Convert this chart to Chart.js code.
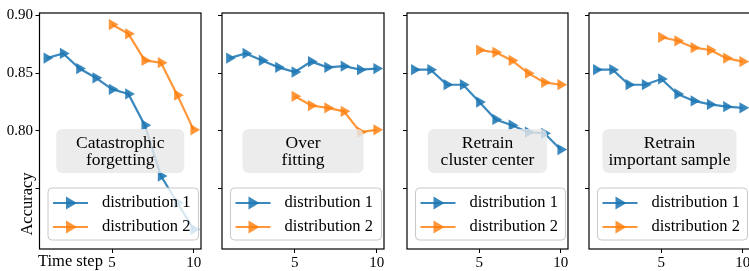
<!DOCTYPE html>
<html lang="en">
<head>
<meta charset="UTF-8">
<title>Accuracy over time steps</title>
<script src="https://cdn.jsdelivr.net/npm/chart.js"></script>
<style>
  html, body { margin: 0; padding: 0; background: #fff; overflow: hidden; }
  #wrap { position: relative; width: 749px; height: 271px; overflow: hidden; }
  #wrap canvas { position: absolute; left: 0; top: 0; }
</style>
</head>
<body>
<div id="wrap">
  <canvas id="p0" width="760" height="271"></canvas>
  <canvas id="p1" width="760" height="271"></canvas>
  <canvas id="p2" width="760" height="271"></canvas>
  <canvas id="p3" width="760" height="271"></canvas>
</div>
<script>
// time steps: distribution 1 from step 1, distribution 2 from step 5
const stepsAll = [1, 2, 3, 4, 5, 6, 7, 8, 9, 10];
const stepsLate = [5, 6, 7, 8, 9, 10];

const panelTitles = [
    ['Catastrophic', 'forgetting'],
    ['Over', 'fitting'],
    ['Retrain', 'cluster center'],
    ['Retrain', 'important sample']
];
const seriesNames = ['distribution 1', 'distribution 2'];

// accuracy, one pair of arrays per panel
const forgetDist1 = [0.863, 0.867, 0.854, 0.846, 0.836, 0.832, 0.805, 0.761, 0.738, 0.715];
const forgetDist2 = [0.892, 0.884, 0.861, 0.859, 0.831, 0.801];
const overfitDist1 = [0.863, 0.867, 0.861, 0.855, 0.851, 0.860, 0.855, 0.856, 0.853, 0.854];
const overfitDist2 = [0.830, 0.822, 0.820, 0.817, 0.799, 0.801];
const clusterDist1 = [0.853, 0.853, 0.840, 0.840, 0.825, 0.810, 0.805, 0.799, 0.798, 0.784];
const clusterDist2 = [0.870, 0.868, 0.861, 0.850, 0.842, 0.840];
const sampleDist1 = [0.853, 0.853, 0.840, 0.840, 0.845, 0.832, 0.826, 0.823, 0.821, 0.820];
const sampleDist2 = [0.881, 0.878, 0.872, 0.870, 0.863, 0.860];

const yTicks = [0.75, 0.80, 0.85, 0.90];
const yLabeled = [0.80, 0.85, 0.90];
const xTicks = [5, 10];

const allDist1 = [forgetDist1, overfitDist1, clusterDist1, sampleDist1];
const allDist2 = [forgetDist2, overfitDist2, clusterDist2, sampleDist2];

const BLUE = 'rgba(31, 119, 180, 0.88)';
const ORANGE = 'rgba(255, 127, 14, 0.82)';
const SERIF = '"Liberation Serif", "DejaVu Serif", serif';

// panel boxes in page pixels
const panelLeft = [39.5, 222, 407, 589];
const panelRight = [201, 384, 568, 750];
const boxWidth = [128, 121, 119, 134];
const TOP = 13;
const XAXIS_H = 22;
const CW = 760;

function roundRect(ctx, x, y, w, h, r) {
    ctx.beginPath();
    ctx.moveTo(x + r, y);
    ctx.lineTo(x + w - r, y);
    ctx.arcTo(x + w, y, x + w, y + r, r);
    ctx.lineTo(x + w, y + h - r);
    ctx.arcTo(x + w, y + h, x + w - r, y + h, r);
    ctx.lineTo(x + r, y + h);
    ctx.arcTo(x, y + h, x, y + h - r, r);
    ctx.lineTo(x, y + r);
    ctx.arcTo(x, y, x + r, y, r);
    ctx.closePath();
}

function drawTriangle(ctx, cx, cy, color) {
    ctx.save();
    ctx.fillStyle = color;
    ctx.beginPath();
    ctx.moveTo(cx + 7, cy);
    ctx.lineTo(cx - 4, cy - 6.5);
    ctx.lineTo(cx - 4, cy + 6.5);
    ctx.closePath();
    ctx.fill();
    ctx.restore();
}

const panelDecor = {
    id: 'panelDecor',
    afterDatasetsDraw(chart, args, opts) {
        const ctx = chart.ctx;
        const a = chart.chartArea;
        const i = opts.index;
        const cx = (a.left + a.right) / 2;

        // grey note box
        ctx.save();
        const bw = boxWidth[i];
        roundRect(ctx, cx - bw / 2, 129, bw, 44, 6);
        ctx.fillStyle = 'rgba(232, 232, 232, 0.82)';
        ctx.fill();
        ctx.fillStyle = '#000';
        ctx.font = '17.5px ' + SERIF;
        ctx.textAlign = 'center';
        ctx.textBaseline = 'middle';
        ctx.fillText(panelTitles[i][0], cx, 143);
        ctx.fillText(panelTitles[i][1], cx, 160);
        ctx.restore();

        // legend
        ctx.save();
        const lx = a.left + 8.5;
        const lw = a.right - 2.5 - lx;
        roundRect(ctx, lx, 188, lw, 52, 4);
        ctx.fillStyle = 'rgba(255, 255, 255, 0.8)';
        ctx.fill();
        ctx.strokeStyle = 'rgba(200, 200, 200, 1)';
        ctx.lineWidth = 1;
        ctx.stroke();
        const colors = [BLUE, ORANGE];
        const rows = [203, 227];
        for (let k = 0; k < 2; k++) {
            ctx.strokeStyle = colors[k];
            ctx.lineWidth = 2.2;
            ctx.beginPath();
            ctx.moveTo(lx + 5, rows[k]);
            ctx.lineTo(lx + 40, rows[k]);
            ctx.stroke();
            drawTriangle(ctx, lx + 22, rows[k], colors[k]);
            ctx.fillStyle = '#000';
            ctx.font = '16.5px ' + SERIF;
            ctx.textAlign = 'left';
            ctx.textBaseline = 'middle';
            ctx.fillText(seriesNames[k], lx + 54, rows[k]);
        }
        ctx.restore();
    },
    afterDraw(chart, args, opts) {
        const ctx = chart.ctx;
        const a = chart.chartArea;
        ctx.save();
        ctx.strokeStyle = '#000';
        ctx.lineWidth = 1.2;
        ctx.strokeRect(a.left, a.top, a.right - a.left, a.bottom - a.top);
        if (opts.index === 0) {
            ctx.fillStyle = '#000';
            ctx.font = '16.5px ' + SERIF;
            ctx.textBaseline = 'middle';
            ctx.textAlign = 'left';
            ctx.fillText('Time step', 38, 262);
            ctx.translate(28, 204);
            ctx.rotate(-Math.PI / 2);
            ctx.textAlign = 'center';
            ctx.fillText('Accuracy', 0, 0);
        }
        ctx.restore();
    }
};

function makePanel(i) {
    const yw = i === 0 ? panelLeft[0] : 6;
    const d1 = stepsAll.map((s, k) => ({ x: s, y: allDist1[i][k] }));
    const d2 = stepsLate.map((s, k) => ({ x: s, y: allDist2[i][k] }));
    const lineSet = (label, data, color) => ({
        label: label,
        data: data,
        borderColor: color,
        backgroundColor: color,
        borderWidth: 2.2,
        pointStyle: 'triangle',
        rotation: 90,
        pointRadius: 6.5,
        pointBorderWidth: 0,
        tension: 0
    });
    new Chart(document.getElementById('p' + i), {
        type: 'line',
        data: {
            datasets: [
                lineSet(seriesNames[0], d1, BLUE),
                lineSet(seriesNames[1], d2, ORANGE)
            ]
        },
        plugins: [panelDecor],
        options: {
            responsive: false,
            animation: false,
            devicePixelRatio: 1,
            layout: {
                padding: {
                    left: panelLeft[i] - yw,
                    right: CW - panelRight[i],
                    top: TOP,
                    bottom: 0
                }
            },
            plugins: {
                legend: { display: false },
                tooltip: { enabled: false },
                panelDecor: { index: i }
            },
            scales: {
                x: {
                    type: 'linear',
                    min: 0.55,
                    max: 10.45,
                    afterBuildTicks: s => { s.ticks = xTicks.map(v => ({ value: v })); },
                    afterFit: s => { s.height = XAXIS_H; },
                    border: { display: false },
                    grid: { drawOnChartArea: false, drawTicks: true, tickLength: 4, color: '#000' },
                    ticks: {
                        color: '#000',
                        padding: 1,
                        maxRotation: 0,
                        font: { family: SERIF, size: 15 },
                        callback: v => String(v)
                    }
                },
                y: {
                    type: 'linear',
                    min: 0.698,
                    max: 0.902,
                    afterBuildTicks: s => { s.ticks = yTicks.map(v => ({ value: v })); },
                    afterFit: s => { s.width = yw; },
                    border: { display: false },
                    grid: { drawOnChartArea: false, drawTicks: true, tickLength: 4, color: '#000' },
                    ticks: {
                        color: '#000',
                        padding: 2.5,
                        font: { family: SERIF, size: 15 },
                        callback: v => (i === 0 && yLabeled.some(t => Math.abs(t - v) < 1e-6)) ? v.toFixed(2) : ''
                    }
                }
            }
        }
    });
}

for (let i = 0; i < 4; i++) makePanel(i);
</script>
</body>
</html>
